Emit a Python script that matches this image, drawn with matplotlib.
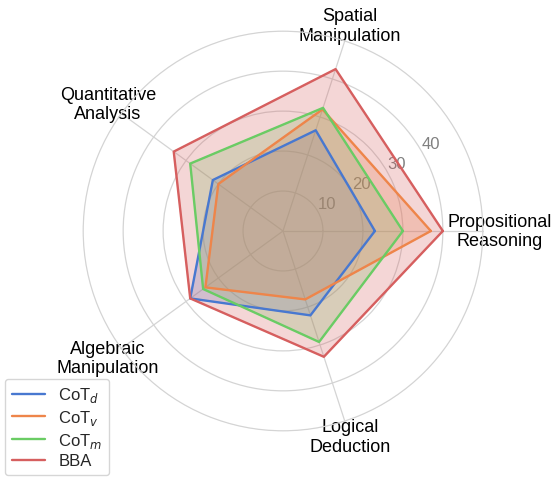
import numpy as np
import matplotlib.pyplot as plt
import seaborn as sns

sns.set_theme(style="whitegrid")
plt.rcParams["font.family"] = ["Liberation Sans", "DejaVu Sans"]

categories = ["Propositional\nReasoning", "Spatial\nManipulation", "Quantitative\nAnalysis",
              "Algebraic\nManipulation", "Logical\nDeduction"]
cot_d = [23, 26.5, 21.7, 28.7, 22.2]
cot_v = [37, 32, 20, 24, 18]
cot_m = [30, 32.4, 28.7, 24.7, 29.2]
bba = [40, 42.6, 33.8, 28.7, 33.1]

series = [("CoT$_d$", cot_d), ("CoT$_v$", cot_v), ("CoT$_m$", cot_m), ("BBA", bba)]
colors = sns.color_palette("muted", 4)

angles = np.linspace(0, 2 * np.pi, len(categories), endpoint=False)
closed = np.concatenate([angles, angles[:1]])

fig = plt.figure(figsize=(5.54, 4.81), dpi=100)
ax = fig.add_axes([82 / 554, 1 - 433 / 481, 402 / 554, 402 / 481], polar=True)

for (name, vals), c in zip(series, colors):
    v = vals + vals[:1]
    ax.plot(closed, v, color=c, linewidth=1.7, label=name)
    ax.fill(closed, v, color=c, alpha=0.25)

ax.set_ylim(0, 50.3)
ax.set_yticks([10, 20, 30, 40, 50])
ax.set_yticklabels(["10", "20", "30", "40", ""], color="grey", fontsize=12)
ax.set_rlabel_position(30)
ax.set_xticks(angles)
ax.set_xticklabels(categories, fontsize=13, color="black")
ax.tick_params(axis="x", pad=-2)
ax.spines["polar"].set_visible(False)
ax.grid(color="#d4d4d4", linewidth=0.9)

fig.legend(loc="lower left", bbox_to_anchor=(0.0, 0.0), borderaxespad=0.3,
           fontsize=12, labelspacing=0.22, frameon=True)

fig.savefig("out.png", dpi=100)
